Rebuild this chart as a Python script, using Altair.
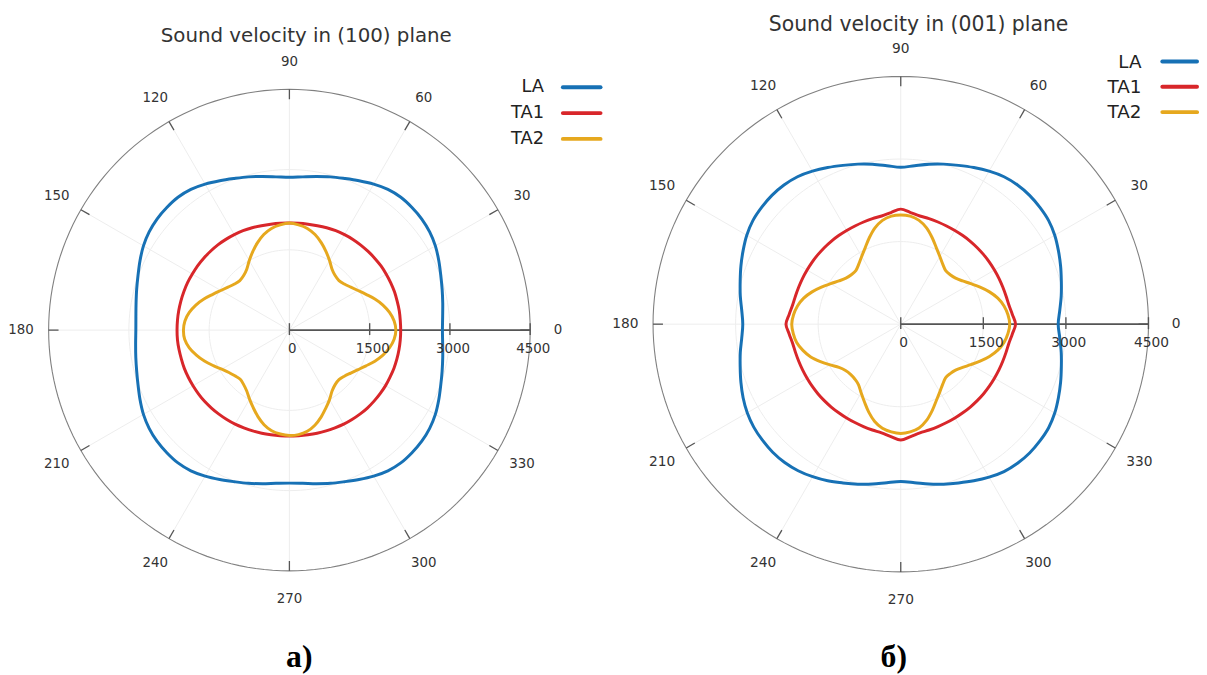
import altair as alt
import pandas as pd

# ---------------- data ----------------
ANGLES = list(range(0, 360, 5))
SERIES = ["LA", "TA1", "TA2"]
COLORS = ["#1771b5", "#d8262a", "#e6a81e"]
TITLES = ["Sound velocity in (100) plane", "Sound velocity in (001) plane"]
PANEL_LABELS = ["а)", "б)"]
ANGLE_TICKS = list(range(0, 360, 30))
RADIAL_TICKS = [0, 1500, 3000, 4500]
RMAX = 4500

# (100) plane
LA_100 = [2860, 2875, 2910, 2955, 3010, 3080, 3150, 3200, 3230, 3240, 3240, 3210, 3150, 3080, 3015, 2965, 2915, 2875,
          2855, 2875, 2915, 2965, 3015, 3080, 3150, 3210, 3240, 3240, 3230, 3200, 3150, 3080, 3010, 2955, 2910, 2880,
          2870, 2885, 2915, 2955, 3010, 3080, 3150, 3200, 3230, 3240, 3240, 3210, 3150, 3080, 3015, 2965, 2915, 2875,
          2860, 2875, 2915, 2965, 3015, 3080, 3150, 3210, 3240, 3240, 3230, 3200, 3150, 3080, 3010, 2955, 2910, 2875]
TA1_100 = [2080, 2080, 2085, 2085, 2090, 2090, 2090, 2090, 2085, 2080, 2075, 2070, 2060, 2050, 2035, 2020, 2010, 2005,
           2000, 2005, 2010, 2020, 2035, 2050, 2060, 2070, 2080, 2085, 2090, 2095, 2095, 2100, 2100, 2100, 2100, 2100,
           2100, 2100, 2095, 2090, 2090, 2085, 2080, 2075, 2070, 2060, 2050, 2040, 2030, 2015, 2005, 1995, 1985, 1980,
           1980, 1980, 1985, 1995, 2005, 2015, 2030, 2040, 2050, 2060, 2065, 2070, 2075, 2075, 2080, 2080, 2080, 2080]
TA2_100 = [1990, 1965, 1900, 1810, 1700, 1580, 1480, 1400, 1340, 1310, 1330, 1390, 1500, 1620, 1740, 1850, 1930, 1975,
           2000, 1975, 1930, 1850, 1740, 1620, 1500, 1390, 1330, 1310, 1340, 1400, 1480, 1580, 1700, 1810, 1900, 1960,
           1980, 1965, 1900, 1800, 1690, 1570, 1460, 1380, 1330, 1300, 1330, 1390, 1490, 1600, 1720, 1830, 1910, 1950,
           1970, 1960, 1920, 1840, 1730, 1610, 1500, 1390, 1330, 1310, 1340, 1400, 1480, 1580, 1700, 1810, 1900, 1965]

# (001) plane
LA_001 = [2860, 2900, 2960, 3020, 3090, 3160, 3230, 3280, 3300, 3310, 3300, 3270, 3210, 3140, 3070, 3010, 2950, 2890,
          2850, 2890, 2950, 3010, 3070, 3140, 3210, 3270, 3300, 3310, 3300, 3280, 3230, 3160, 3090, 3020, 2960, 2900,
          2870, 2900, 2960, 3020, 3090, 3160, 3220, 3260, 3280, 3290, 3280, 3250, 3200, 3140, 3070, 3010, 2950, 2890,
          2860, 2890, 2950, 3010, 3070, 3140, 3210, 3270, 3300, 3310, 3300, 3280, 3230, 3160, 3090, 3020, 2960, 2900]
TA1_001 = [2085, 2035, 1995, 1980, 1972, 1968, 1965, 1965, 1965, 1965, 1965, 1965, 1965, 1968, 1975, 1985, 1995, 2035,
           2090, 2035, 1995, 1985, 1975, 1968, 1965, 1965, 1965, 1965, 1965, 1965, 1965, 1968, 1972, 1980, 1995, 2035,
           2085, 2035, 1995, 1980, 1972, 1968, 1965, 1965, 1965, 1965, 1965, 1965, 1968, 1972, 1980, 1990, 2005, 2050,
           2105, 2050, 2005, 1990, 1980, 1972, 1968, 1965, 1965, 1965, 1965, 1965, 1965, 1968, 1972, 1980, 1995, 2035]
TA2_001 = [1980, 1955, 1905, 1825, 1715, 1590, 1470, 1370, 1300, 1270, 1270, 1330, 1420, 1530, 1670, 1810, 1915, 1970,
           1985, 1970, 1915, 1810, 1670, 1530, 1420, 1330, 1270, 1270, 1300, 1370, 1470, 1590, 1715, 1825, 1905, 1955,
           1980, 1960, 1920, 1840, 1740, 1610, 1480, 1370, 1310, 1290, 1300, 1340, 1440, 1560, 1700, 1830, 1920, 1965,
           1985, 1965, 1915, 1810, 1670, 1530, 1420, 1330, 1270, 1270, 1300, 1370, 1470, 1590, 1715, 1825, 1905, 1955]

# ---------------- layout (pixels) ----------------
GEOS = [
    dict(W=602, H=660, cx=282, cy=322, R=243, tdx=17, tdy=297, ldx=257, lx1=276, lx2=314, ly0=245, lstep=26,
         pdx=10, pdy=-330),
    dict(W=589, H=660, cx=297, cy=316, R=250, tdx=18, tdy=302, ldx=243, lx1=264, lx2=299, ly0=265, lstep=25.5,
         pdx=-7, pdy=-336),
]
FONT = "DejaVu Sans"


def make_panel(curves, title, plabel, g):
    k = RMAX / g["R"]
    fs = g["R"] / 243.0
    X = alt.Scale(domain=[-g["cx"] * k, (g["W"] - g["cx"]) * k], nice=False, zero=False)
    Y = alt.Scale(domain=[-(g["H"] - g["cy"]) * k, g["cy"] * k], nice=False, zero=False)

    def ex(f):
        return alt.X(f"{f}:Q", scale=X, axis=None)

    def ey(f):
        return alt.Y(f"{f}:Q", scale=Y, axis=None)

    # rings (grid + frame)
    ring_rows = [{"ring": rr, "a": a} for rr in [1500, 3000, RMAX] for a in range(0, 360, 2)]
    rings = pd.DataFrame(ring_rows)
    polar = dict(x="datum.ring*cos(datum.a*PI/180)", y="datum.ring*sin(datum.a*PI/180)")
    grid_rings = alt.Chart(rings).transform_filter("datum.ring < %d" % RMAX).transform_calculate(**polar).mark_line(
        interpolate="linear-closed", color="#ededed", strokeWidth=1
    ).encode(x=ex("x"), y=ey("y"), detail="ring:N", order="a:Q")
    frame = alt.Chart(rings).transform_filter("datum.ring == %d" % RMAX).transform_calculate(**polar).mark_line(
        interpolate="linear-closed", color="#808080", strokeWidth=1.1
    ).encode(x=ex("x"), y=ey("y"), order="a:Q")

    ang = pd.DataFrame({"a": ANGLE_TICKS})
    spokes = alt.Chart(ang).transform_calculate(
        x0="0", y0="0",
        x1=f"{RMAX}*cos(datum.a*PI/180)", y1=f"{RMAX}*sin(datum.a*PI/180)"
    ).mark_rule(color="#ededed", strokeWidth=1).encode(x=ex("x0"), y=ey("y0"), x2="x1:Q", y2="y1:Q")

    tin = RMAX - 10 * k
    ticks = alt.Chart(ang).transform_calculate(
        x0=f"{tin}*cos(datum.a*PI/180)", y0=f"{tin}*sin(datum.a*PI/180)",
        x1=f"{RMAX}*cos(datum.a*PI/180)", y1=f"{RMAX}*sin(datum.a*PI/180)"
    ).mark_rule(color="#555555", strokeWidth=1.3).encode(x=ex("x0"), y=ey("y0"), x2="x1:Q", y2="y1:Q")

    lr = RMAX + 28 * k
    ang_labels = alt.Chart(ang).transform_calculate(
        x=f"{lr}*cos(datum.a*PI/180)", y=f"{lr}*sin(datum.a*PI/180)", t="toString(datum.a)"
    ).mark_text(font=FONT, fontSize=13.5 * fs, color="#333333", align="center", baseline="middle").encode(
        x=ex("x"), y=ey("y"), text="t:N")

    rad = pd.DataFrame({"v": RADIAL_TICKS})
    axis_line = alt.Chart(pd.DataFrame({"v": [RMAX]})).transform_calculate(x0="0", y0="0").mark_rule(
        color="#555555", strokeWidth=1.6).encode(x=ex("x0"), y=ey("y0"), x2="v:Q", y2="y0:Q")
    rad_ticks = alt.Chart(rad).transform_calculate(ya=f"{-5 * k}", yb=f"{7 * k}").mark_rule(
        color="#555555", strokeWidth=1.4).encode(x=ex("v"), y=ey("ya"), y2="yb:Q")
    rad_labels = alt.Chart(rad).transform_calculate(y=f"{-19 * k}", t="toString(datum.v)").mark_text(
        font=FONT, fontSize=13.5 * fs, color="#333333", align="center", baseline="middle", dx=3
    ).encode(x=ex("v"), y=ey("y"), text="t:N")

    # curves
    rows = [{"series": s, "angle": a, "r": r} for s, arr in zip(SERIES, curves) for a, r in zip(ANGLES, arr)]
    df = pd.DataFrame(rows)
    color = alt.Color("series:N", scale=alt.Scale(domain=SERIES, range=COLORS), legend=None)
    lines = alt.Chart(df).transform_calculate(
        x="datum.r*cos(datum.angle*PI/180)", y="datum.r*sin(datum.angle*PI/180)"
    ).mark_line(interpolate="cardinal-closed", strokeWidth=3).encode(
        x=ex("x"), y=ey("y"), color=color, order="angle:Q")

    # legend
    leg = pd.DataFrame({"series": SERIES, "i": list(range(len(SERIES)))})
    leg_lines = alt.Chart(leg).transform_calculate(
        x0=f"{g['lx1'] * k}", x1=f"{g['lx2'] * k}", y=f"({g['ly0']} - datum.i*{g['lstep']})*{k}"
    ).mark_rule(strokeWidth=4, strokeCap="round").encode(x=ex("x0"), x2="x1:Q", y=ey("y"), color=color)
    leg_text = alt.Chart(leg).transform_calculate(
        x=f"{g['ldx'] * k}", y=f"({g['ly0']} - datum.i*{g['lstep']})*{k}"
    ).mark_text(font=FONT, fontSize=18 * fs, color="#222222", align="right", baseline="middle").encode(
        x=ex("x"), y=ey("y"), text="series:N")

    title_mark = alt.Chart(pd.DataFrame({"t": [title]})).transform_calculate(
        x=f"{g['tdx'] * k}", y=f"{g['tdy'] * k}"
    ).mark_text(font=FONT, fontSize=20 * fs, color="#333333", align="center", baseline="middle").encode(
        x=ex("x"), y=ey("y"), text="t:N")

    plabel_mark = alt.Chart(pd.DataFrame({"t": [plabel]})).transform_calculate(
        x=f"{g['pdx'] * k}", y=f"{g['pdy'] * k}"
    ).mark_text(font="Liberation Serif", fontSize=32, fontWeight="bold", color="#000000",
                align="center", baseline="middle").encode(x=ex("x"), y=ey("y"), text="t:N")

    return alt.layer(
        grid_rings, spokes, frame, ticks, axis_line, rad_ticks, lines, rad_labels, ang_labels,
        leg_lines, leg_text, title_mark, plabel_mark
    ).properties(width=g["W"], height=g["H"])


left = make_panel([LA_100, TA1_100, TA2_100], TITLES[0], PANEL_LABELS[0], GEOS[0])
right = make_panel([LA_001, TA1_001, TA2_001], TITLES[1], PANEL_LABELS[1], GEOS[1])

chart = alt.hconcat(left, right, spacing=0, bounds="flush").properties(
    padding=0, background="white"
).configure_view(stroke=None)

chart.save("out.html", embed_options={"renderer": "svg", "actions": False})
